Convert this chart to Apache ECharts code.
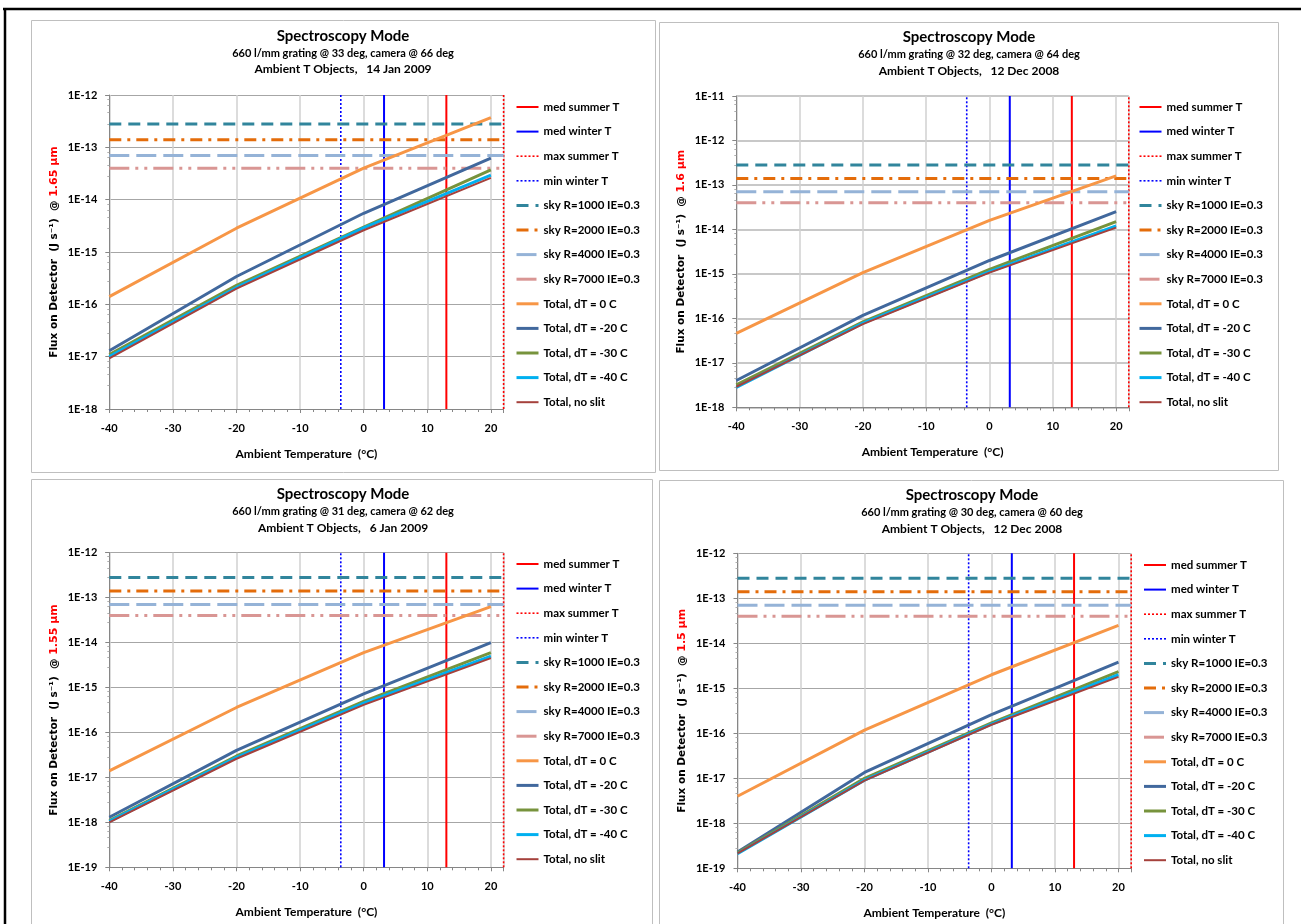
<!DOCTYPE html>
<html><head><meta charset="utf-8">
<script src="https://cdn.jsdelivr.net/npm/echarts@6/dist/echarts.min.js"></script>
<style>html,body{margin:0;padding:0;background:#fff}#c{width:1301px;height:924px}</style>
</head><body><div id="c"></div>
<script>
// ---------- data ----------
const tempC = [-40, -20, 0, 20];
const skyTempC = [-40, 22];
const xTickLabels = [-40, -30, -20, -10, 0, 10, 20];
const refNames = ['med summer T', 'med winter T', 'max summer T', 'min winter T'];
const refTempC = [13, 3.2, 22, -3.6];
const skyNames = ['sky R=1000 IE=0.3', 'sky R=2000 IE=0.3', 'sky R=4000 IE=0.3', 'sky R=7000 IE=0.3'];
const skyFlux = [2.8e-13, 1.4e-13, 7.0e-14, 4.0e-14];
const totalNames = ['Total, dT = 0 C', 'Total, dT = -20 C', 'Total, dT = -30 C', 'Total, dT = -40 C', 'Total, no slit'];

// 1.65 um, 14 Jan 2009
const f165_dT0   = [1.4e-16, 2.85e-15, 4.0e-14, 3.7e-13];
const f165_dT20  = [1.3e-17, 3.4e-16, 5.5e-15, 6.2e-14];
const f165_dT30  = [1.1e-17, 2.3e-16, 3.0e-15, 3.7e-14];
const f165_dT40  = [1.0e-17, 2.1e-16, 2.9e-15, 2.95e-14];
const f165_noSlit= [9.3e-18, 2.0e-16, 2.6e-15, 2.6e-14];
// 1.6 um, 12 Dec 2008
const f160_dT0   = [4.6e-17, 1.07e-15, 1.6e-14, 1.6e-13];
const f160_dT20  = [4.0e-18, 1.17e-16, 2.0e-15, 2.5e-14];
const f160_dT30  = [3.2e-18, 8.3e-17, 1.26e-15, 1.5e-14];
const f160_dT40  = [2.8e-18, 7.8e-17, 1.12e-15, 1.2e-14];
const f160_noSlit= [2.9e-18, 7.4e-17, 1.07e-15, 1.1e-14];
// 1.55 um, 6 Jan 2009
const f155_dT0   = [1.4e-17, 3.6e-16, 6.0e-15, 6.3e-14];
const f155_dT20  = [1.3e-18, 4.0e-17, 7.2e-16, 1.0e-14];
const f155_dT30  = [1.1e-18, 3.0e-17, 4.9e-16, 6.0e-15];
const f155_dT40  = [1.05e-18, 2.8e-17, 4.5e-16, 5.0e-15];
const f155_noSlit= [1.0e-18, 2.6e-17, 4.1e-16, 4.5e-15];
// 1.5 um, 12 Dec 2008
const f150_dT0   = [4.0e-18, 1.18e-16, 2.0e-15, 2.5e-14];
const f150_dT20  = [2.3e-19, 1.35e-17, 2.6e-16, 3.8e-15];
const f150_dT30  = [2.2e-19, 1.0e-17, 1.7e-16, 2.35e-15];
const f150_dT40  = [2.1e-19, 9.1e-18, 1.6e-16, 2.0e-15];
const f150_noSlit= [2.15e-19, 8.9e-18, 1.55e-16, 1.8e-15];

const yRange165 = [1e-18, 1e-12];
const yRange160 = [1e-18, 1e-11];
const yRange155 = [1e-19, 1e-12];
const yRange150 = [1e-19, 1e-12];

const titleMain = 'Spectroscopy Mode';
const subTitles = ['660 l/mm grating @ 33 deg, camera @ 66 deg', '660 l/mm grating @ 32 deg, camera @ 64 deg',
                   '660 l/mm grating @ 31 deg, camera @ 62 deg', '660 l/mm grating @ 30 deg, camera @ 60 deg'];
const dateTitles = ['Ambient T Objects,   14 Jan 2009', 'Ambient T Objects,   12 Dec 2008',
                    'Ambient T Objects,   6 Jan 2009', 'Ambient T Objects,   12 Dec 2008'];
const wavelengths = ['1.65 µm', '1.6 µm', '1.55 µm', '1.5 µm'];

// ---------- styles ----------
const refStyles = [
  {color: '#ff0000', width: 2, type: 'solid'},
  {color: '#0000ff', width: 2, type: 'solid'},
  {color: '#ff0000', width: 1.6, type: [2, 2]},
  {color: '#0000ff', width: 1.6, type: [2, 2]}
];
const skyStyles = [
  {color: '#31859c', width: 3, type: [12, 7]},
  {color: '#e46c0a', width: 3, type: [12, 6, 3, 6]},
  {color: '#95b3d7', width: 3, type: [20, 7]},
  {color: '#d99694', width: 3, type: [20, 6, 3, 6, 3, 6]}
];
const totalStyles = [
  {color: '#f79646', width: 3},
  {color: '#41689d', width: 3},
  {color: '#77933c', width: 3},
  {color: '#00b0f0', width: 3},
  {color: '#a5413c', width: 2}
];

const panels = [
  {grid: {left: 109.3, top: 95, width: 394.3, height: 314}, yr: yRange165,
   totals: [f165_dT0, f165_dT20, f165_dT30, f165_dT40, f165_noSlit],
   cx: 343, ty: [36, 53, 69], leg: [515, 100], box: [31, 20, 624, 452], hGrid: '#a6a6a6', hW: 1},
  {grid: {left: 736.3, top: 96, width: 392.5, height: 311.3}, yr: yRange160,
   totals: [f160_dT0, f160_dT20, f160_dT30, f160_dT40, f160_noSlit],
   cx: 969, ty: [37.3, 54, 70.7], leg: [1138, 100], box: [659, 22, 619, 448], hGrid: '#c8c8c8', hW: 2},
  {grid: {left: 109.3, top: 552.7, width: 394.3, height: 314.6}, yr: yRange155,
   totals: [f155_dT0, f155_dT20, f155_dT30, f155_dT40, f155_noSlit],
   cx: 343, ty: [494, 511, 528.3], leg: [515, 557], box: [31, 479, 621, 460], hGrid: '#a6a6a6', hW: 1},
  {grid: {left: 737.5, top: 553.3, width: 393.7, height: 315}, yr: yRange150,
   totals: [f150_dT0, f150_dT20, f150_dT30, f150_dT40, f150_noSlit],
   cx: 972, ty: [495, 512, 528.7], leg: [1142.5, 558], box: [659, 480, 624, 460], hGrid: '#a6a6a6', hW: 1}
];

const FONT = 'Lato';
const series = [];
panels.forEach((p, idx) => {
  const base = {type: 'line', xAxisIndex: idx, yAxisIndex: idx, symbol: 'none', silent: true, animation: false, clip: false};
  refNames.forEach((n, i) => series.push(Object.assign({}, base, {
    name: n, data: p.yr.map(v => [refTempC[i], v]),
    itemStyle: {color: refStyles[i].color}, lineStyle: refStyles[i], z: 2})));
  skyNames.forEach((n, i) => series.push(Object.assign({}, base, {
    name: n, data: skyTempC.map(t => [t, skyFlux[i]]),
    itemStyle: {color: skyStyles[i].color}, lineStyle: skyStyles[i], z: 3})));
  totalNames.forEach((n, i) => series.push(Object.assign({}, base, {
    name: n, data: tempC.map((t, k) => [t, p.totals[i][k]]),
    itemStyle: {color: totalStyles[i].color}, lineStyle: totalStyles[i], z: 4})));
});

const legendNames = [...refNames, ...skyNames, ...totalNames];

const graphic = [
  {type: 'line', shape: {x1: 3, y1: 9, x2: 1301, y2: 9}, style: {stroke: '#000', lineWidth: 2.5}, z: 100},
  {type: 'line', shape: {x1: 5, y1: 8, x2: 5, y2: 924}, style: {stroke: '#000', lineWidth: 2.5}, z: 100}
];
panels.forEach((p, i) => {
  graphic.push({type: 'rect', shape: {x: p.box[0] + 0.5, y: p.box[1] + 0.5, width: p.box[2], height: p.box[3]},
    style: {fill: 'none', stroke: '#bfbfbf', lineWidth: 1}, z: -1});
  graphic.push({type: 'text', x: p.cx, y: p.ty[0], style: {text: titleMain, font: 'bold 15px ' + FONT, fill: '#000', textAlign: 'center', verticalAlign: 'middle'}});
  graphic.push({type: 'text', x: p.cx, y: p.ty[1], style: {text: subTitles[i], font: 'bold 11px ' + FONT, fill: '#000', textAlign: 'center', verticalAlign: 'middle'}});
  graphic.push({type: 'text', x: p.cx, y: p.ty[2], style: {text: dateTitles[i], font: 'bold 12px ' + FONT, fill: '#000', textAlign: 'center', verticalAlign: 'middle'}});
});

const option = {
  backgroundColor: '#fff',
  animation: false,
  grid: panels.map(p => Object.assign({containLabel: false}, p.grid)),
  xAxis: panels.map((p, i) => ({
    type: 'value', gridIndex: i, min: -40, max: 22, interval: 10,
    axisLine: {show: true, onZero: false, lineStyle: {color: '#868686', width: 1}},
    axisTick: {show: true, length: 4, lineStyle: {color: '#868686'}},
    minorTick: {show: true, splitNumber: 5, length: 3, lineStyle: {color: '#868686'}},
    axisLabel: {margin: 14, fontFamily: FONT, fontWeight: 'bold', fontSize: 11, color: '#000',
      formatter: v => xTickLabels.includes(v) ? String(v) : ''},
    splitLine: {show: true, lineStyle: {color: '#d0d0d0', width: 1.5}},
    name: 'Ambient Temperature  (°C)', nameLocation: 'middle', nameGap: 39,
    nameTextStyle: {fontFamily: FONT, fontWeight: 'bold', fontSize: 12, color: '#000'}
  })),
  yAxis: panels.map((p, i) => ({
    type: 'log', logBase: 10, gridIndex: i, min: p.yr[0], max: p.yr[1],
    axisLine: {show: true, onZero: false, lineStyle: {color: '#868686', width: 1}},
    axisTick: {show: true, length: 4, lineStyle: {color: '#868686'}},
    minorTick: {show: true, splitNumber: 5, length: 2, lineStyle: {color: '#b0b0b0'}},
    axisLabel: {margin: 12, fontFamily: FONT, fontWeight: 'bold', fontSize: 11, color: '#000',
      formatter: v => '1E' + Math.round(Math.log10(v))},
    splitLine: {show: true, lineStyle: {color: p.hGrid, width: p.hW}},
    name: '{a|Flux on Detector  (J s⁻¹)  @ }{r|' + wavelengths[i] + '}',
    nameLocation: 'middle', nameGap: 50,
    nameTextStyle: {rich: {
      a: {fontFamily: 'DejaVu Sans', fontWeight: 'bold', fontSize: 10.5, color: '#000'},
      r: {fontFamily: 'DejaVu Sans', fontWeight: 'bold', fontSize: 11, color: '#ff0000'}
    }}
  })),
  legend: panels.map(p => ({
    orient: 'vertical', left: p.leg[0], top: p.leg[1], padding: 0,
    itemWidth: 22, itemHeight: 14, itemGap: 10.6, selectedMode: false,
    itemStyle: {opacity: 0},
    lineStyle: {width: 'inherit'},
    textStyle: {fontFamily: FONT, fontWeight: 'bold', fontSize: 11.5, color: '#000', lineHeight: 14},
    data: legendNames
  })),
  graphic: graphic,
  series: series
};

const chart = echarts.init(document.getElementById('c'), null, {renderer: 'canvas'});
chart.setOption(option);
</script>
</body></html>
